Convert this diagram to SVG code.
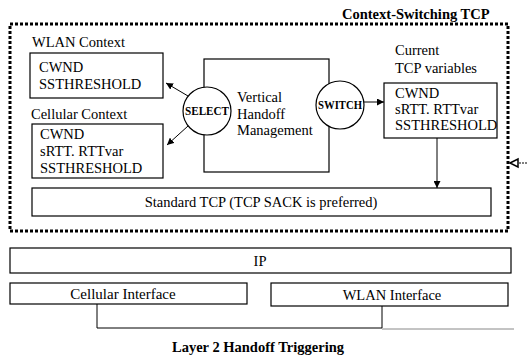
<svg xmlns="http://www.w3.org/2000/svg" width="527" height="356" viewBox="0 0 527 356">
<defs>
<style>
.t{font-family:"Liberation Serif","Times New Roman",serif;font-size:14.5px;fill:#000}
.b{font-weight:bold}
.c{font-size:12px;font-weight:bold;text-anchor:middle}
.m{text-anchor:middle}
.box{fill:#fff;stroke:#000;stroke-width:1.2}
.ln{fill:none;stroke:#000;stroke-width:1}
</style>
<marker id="ah" viewBox="0 0 10 10" refX="10" refY="5" markerWidth="7" markerHeight="7" orient="auto" markerUnits="userSpaceOnUse">
<path d="M0,0 L10,5 L0,10 z" fill="#000"/>
</marker>
</defs>
<rect width="527" height="356" fill="#fff"/>

<g id="cstcp">
<rect x="10" y="24" width="498" height="207" fill="none" stroke="#000" stroke-width="3" stroke-dasharray="3 2"/>
<text class="t b" x="342" y="19">Context-Switching TCP</text>
</g>

<g id="wlan-context">
<text class="t" x="32" y="47">WLAN Context</text>
<rect class="box" x="30" y="53" width="133" height="45"/>
<text class="t" x="39" y="72">CWND</text>
<text class="t" x="39" y="89">SSTHRESHOLD</text>
</g>

<g id="cellular-context">
<text class="t" x="31" y="119">Cellular Context</text>
<rect class="box" x="32" y="124" width="131" height="54"/>
<text class="t" x="40" y="139">CWND</text>
<text class="t" x="40" y="156">sRTT. RTTvar</text>
<text class="t" x="40" y="173">SSTHRESHOLD</text>
</g>

<g id="vhm">
<rect class="box" x="204" y="59" width="125" height="113"/>
<text class="t" x="237" y="102">Vertical</text>
<text class="t" x="237" y="119">Handoff</text>
<text class="t" x="237" y="135">Management</text>
</g>

<g id="select">
<circle cx="207" cy="111" r="24" fill="#fff" stroke="#000" stroke-width="1.2"/>
<text class="t c" x="207" y="115" textLength="44" lengthAdjust="spacingAndGlyphs">SELECT</text>
</g>

<g id="switch">
<circle cx="340" cy="105" r="24" fill="#fff" stroke="#000" stroke-width="1.2"/>
<text class="t c" x="340" y="109" textLength="44" lengthAdjust="spacingAndGlyphs">SWITCH</text>
</g>

<g id="current">
<text class="t" x="395" y="55">Current</text>
<text class="t" x="395" y="73">TCP variables</text>
<rect class="box" x="384" y="83" width="113" height="55"/>
<text class="t" x="395" y="98">CWND</text>
<text class="t" x="395" y="114">sRTT. RTTvar</text>
<text class="t" x="395" y="130">SSTHRESHOLD</text>
</g>

<g id="standard-tcp">
<rect class="box" x="32" y="188" width="459" height="28"/>
<text class="t m" x="261" y="207">Standard TCP (TCP SACK is preferred)</text>
</g>

<g id="ip">
<rect class="box" x="10" y="248" width="501" height="25"/>
<text class="t m" x="260" y="266">IP</text>
</g>

<g id="cellular-if">
<rect class="box" x="10" y="283" width="237" height="21"/>
<text class="t m" x="123" y="299" style="font-size:15px">Cellular Interface</text>
</g>

<g id="wlan-if">
<rect class="box" x="271" y="283" width="237" height="23"/>
<text class="t m" x="392" y="300">WLAN Interface</text>
</g>

<g id="layer2">
<text class="t b" x="172" y="352">Layer 2 Handoff Triggering</text>
</g>

<g id="connectors">
<line class="ln" x1="188" y1="96" x2="166" y2="83" marker-end="url(#ah)"/>
<line class="ln" x1="188" y1="126" x2="167" y2="145" marker-end="url(#ah)"/>
<line class="ln" x1="364" y1="102" x2="384" y2="102" marker-end="url(#ah)"/>
<line class="ln" x1="437" y1="138" x2="437" y2="188" marker-end="url(#ah)"/>
<line x1="527" y1="163" x2="518" y2="163" stroke="#000" stroke-width="1" stroke-dasharray="2 1"/>
<path d="M510,163 L518,159 L518,167 z" fill="#fff" stroke="#000" stroke-width="1.5"/>
<polyline class="ln" points="97,304 97,328 382,328 382,306"/>
<line x1="382" y1="329" x2="514" y2="329" stroke="#888" stroke-width="1"/>
</g>
</svg>
